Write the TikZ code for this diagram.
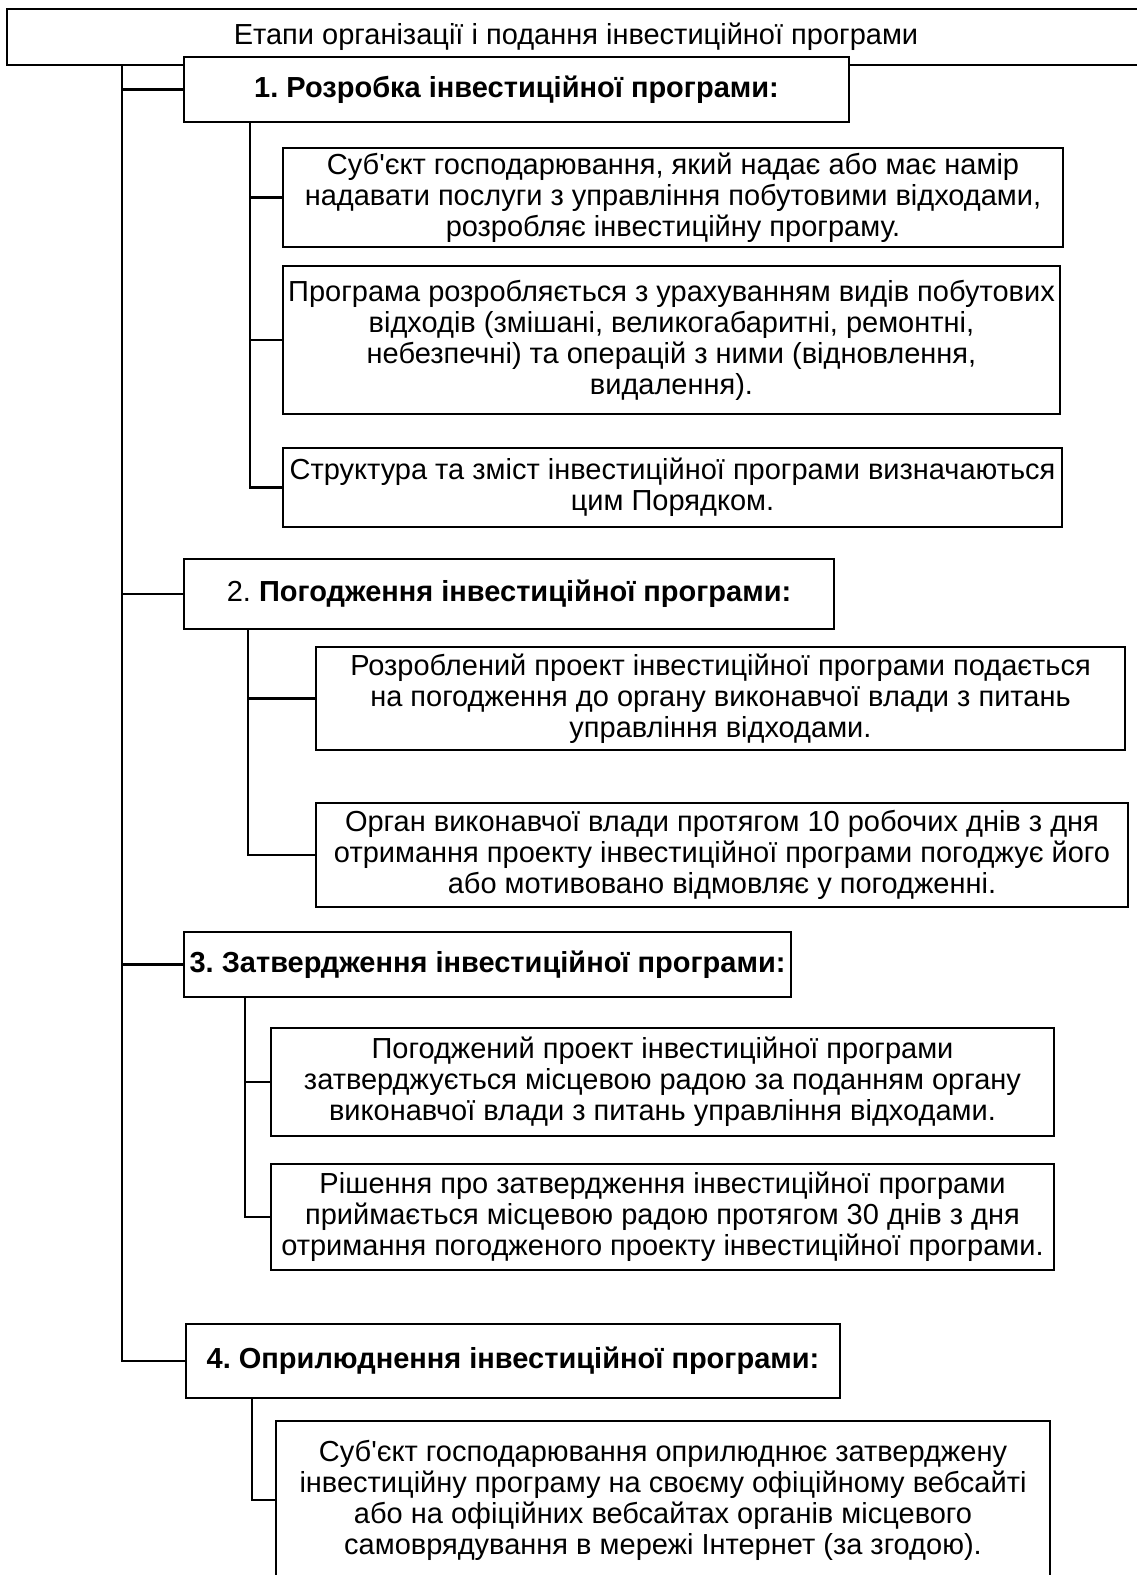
\documentclass[tikz,border=0pt]{standalone}
\usepackage{fontspec}
\setmainfont{Liberation Sans}
\usepackage{tikz}
\usetikzlibrary{positioning,calc}
\newcommand{\bodyfont}{\fontsize{29}{31}\selectfont}
\frenchspacing

\begin{document}
\begin{tikzpicture}[
  x=1pt,y=-1pt,
  box/.style={rectangle,draw=black,line width=2.8pt,fill=white,align=center,inner sep=0pt,font=\bodyfont},
  link/.style={draw=black,line width=2.8pt},
]
\useasboundingbox (0,0) rectangle (1137,1575);

% TITLE
\node[box,minimum width=1138,minimum height=56] (title) at (576,37) {Етапи організації і подання інвестиційної програми};

% STAGE 1
\node[box,minimum width=665,minimum height=65] (s1) at (516.5,89.5) {\textbf{1. Розробка інвестиційної програми:}};
\node[box,minimum width=780,minimum height=99] (s1a) at (673,197.5) {Суб\textquotesingle єкт господарювання, який надає або має намір\\надавати послуги з управління побутовими відходами,\\розробляє інвестиційну програму.};
\node[box,minimum width=777,minimum height=148] (s1b) at (671.5,340) {Програма розробляється з урахуванням видів побутових\\відходів (змішані, великогабаритні, ремонтні,\\небезпечні) та операцій з ними (відновлення,\\видалення).};
\node[box,minimum width=779,minimum height=79] (s1c) at (672.5,487.5) {Структура та зміст інвестиційної програми визначаються\\цим Порядком.};

% STAGE 2
\node[box,minimum width=650,minimum height=70] (s2) at (509,594) {2. \textbf{Погодження інвестиційної програми:}};
\node[box,minimum width=809,minimum height=103] (s2a) at (720.5,698.5) {Розроблений проект інвестиційної програми подається\\на погодження до органу виконавчої влади з питань\\управління відходами.};
\node[box,minimum width=812,minimum height=104] (s2b) at (722,855) {Орган виконавчої влади протягом 10 робочих днів з дня\\отримання проекту інвестиційної програми погоджує його\\або мотивовано відмовляє у погодженні.};

% STAGE 3
\node[box,minimum width=607,minimum height=65] (s3) at (487.5,964.5) {\textbf{3. Затвердження інвестиційної програми:}};
\node[box,minimum width=783,minimum height=108] (s3a) at (662.5,1082) {Погоджений проект інвестиційної програми\\затверджується місцевою радою за поданням органу\\виконавчої влади з питань управління відходами.};
\node[box,minimum width=783,minimum height=106] (s3b) at (662.5,1217) {Рішення про затвердження інвестиційної програми\\приймається місцевою радою протягом 30 днів з дня\\отримання погодженого проекту інвестиційної програми.};

% STAGE 4
\node[box,minimum width=654,minimum height=74] (s4) at (513,1361) {\textbf{4. Оприлюднення інвестиційної програми:}};
\node[box,minimum width=774,minimum height=158] (s4a) at (663,1500) {Суб\textquotesingle єкт господарювання оприлюднює затверджену\\інвестиційну програму на своєму офіційному вебсайті\\або на офіційних вебсайтах органів місцевого\\самоврядування в мережі Інтернет (за згодою).};

% TRUNKS
\coordinate (trunk) at (122,0);
\coordinate (sub1) at (250,0);
\coordinate (sub2) at (248,0);
\coordinate (sub3) at (245,0);
\coordinate (sub4) at (252,0);

% EDGES
\draw[link] (title.south -| trunk) |- (s4.west);
\draw[link] (trunk |- s1.west) -- (s1.west);
\draw[link] (trunk |- s2.west) -- (s2.west);
\draw[link] (trunk |- s3.west) -- (s3.west);
\draw[link] (s1.south -| sub1) |- (s1c.west);
\draw[link] (sub1 |- s1a.west) -- (s1a.west);
\draw[link] (sub1 |- s1b.west) -- (s1b.west);
\draw[link] (s2.south -| sub2) |- (s2b.west);
\draw[link] (sub2 |- s2a.west) -- (s2a.west);
\draw[link] (s3.south -| sub3) |- (s3b.west);
\draw[link] (sub3 |- s3a.west) -- (s3a.west);
\draw[link] (s4.south -| sub4) |- (s4a.west);
\end{tikzpicture}
\end{document}
